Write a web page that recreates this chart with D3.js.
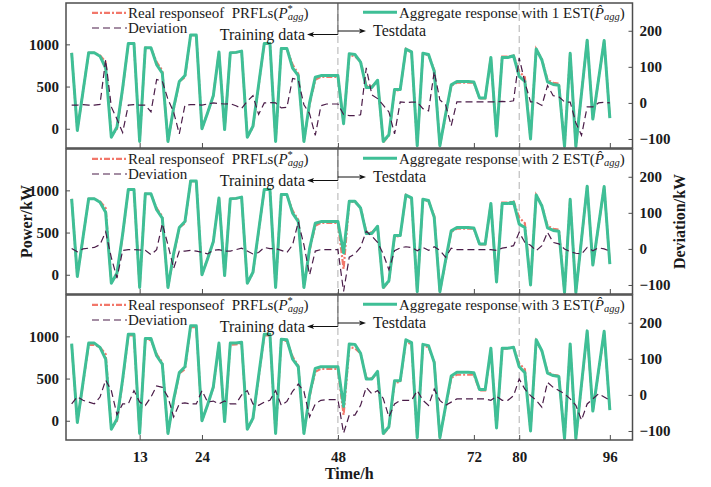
<!DOCTYPE html>
<html>
<head>
<meta charset="utf-8">
<script src="https://cdn.jsdelivr.net/npm/d3@7/dist/d3.min.js"></script>
<style>
body { margin: 0; background: #fff; }
svg { display: block; font-family: "Liberation Serif", "Times New Roman", serif; }
</style>
</head>
<body>
<div id="chart"></div>
<script>
// time axis: hour 1..96
var hours = d3.range(1, 97);

// real response of PRFLs (same in every panel)
var realResp = [
  900, -20, 440, 900, 900, 870, 790, -90, 0, 470, 1010, 1010, -150, 960, 955, 790, 690, -150, 230, 560, 610, 1110, 1110, 0,
  190, 390, 910, -10, 900, 905, 915, -100, 20, 510, 1010, 1010, -150, 950, 945, 760, 650, -150, 290, 580, 615, 615, 615, 615,
  70, 870, 860, 800, 510, 500, 570, -160, -80, 450, 460, 945, 900, -200, 890, 870, 700, -200, 150, 510, 545, 545, 545, 545,
  360, 360, 845, -85, 855, 855, 870, 680, 610, -120, 945, 825, 580, 545, 535, -210, 895, -210, 420, 1050, 115, 580, 1045, 125
];

// aggregate response with 1, 2, 3 EST
var agg1 = [
  900, -20, 440, 900, 900, 860, 720, -100, 20, 480, 1010, 1010, -150, 960, 960, 760, 660, -150, 250, 560, 630, 1110, 1110, 0,
  190, 390, 910, -10, 900, 905, 920, -100, 30, 520, 1010, 1010, -150, 950, 950, 720, 630, -150, 310, 610, 630, 630, 630, 630,
  60, 890, 880, 790, 490, 490, 575, -150, -70, 465, 465, 945, 910, -200, 895, 880, 680, -200, 170, 520, 560, 560, 560, 555,
  365, 365, 845, -85, 845, 845, 865, 620, 560, -120, 945, 815, 555, 525, 515, -210, 895, -210, 420, 1050, 115, 580, 1045, 125
];
var agg2 = [
  900, -20, 440, 900, 900, 860, 740, -100, 20, 480, 1010, 1010, -150, 960, 960, 770, 670, -150, 250, 560, 630, 1110, 1110, 0,
  190, 390, 910, -10, 900, 905, 920, -100, 30, 520, 1010, 1010, -150, 950, 950, 730, 630, -150, 310, 610, 630, 630, 630, 630,
  260, 870, 870, 790, 490, 490, 575, -150, -70, 465, 465, 945, 910, -200, 895, 880, 680, -200, 170, 520, 560, 560, 560, 555,
  365, 365, 845, -85, 845, 845, 860, 600, 560, -120, 945, 815, 555, 525, 515, -210, 895, -210, 420, 1050, 115, 580, 1045, 125
];
var agg3 = [
  915, -20, 450, 920, 920, 870, 730, -100, 20, 490, 1025, 1025, -150, 975, 975, 770, 670, -150, 250, 570, 640, 1125, 1125, 0,
  190, 400, 920, -10, 920, 920, 930, -100, 30, 530, 1025, 1025, -150, 965, 960, 730, 640, -150, 310, 620, 640, 640, 640, 640,
  170, 910, 905, 800, 495, 495, 585, -150, -70, 475, 475, 960, 925, -200, 905, 890, 690, -200, 170, 530, 575, 575, 575, 570,
  370, 370, 860, -85, 860, 860, 870, 640, 570, -120, 960, 830, 565, 535, 525, -210, 910, -210, 430, 1065, 115, 590, 1060, 125
];

// deviation (right axis) for 1, 2, 3 EST
var dev1 = [
  -6, -6, -5, -6, -6, -4, 120, -11, -45, -82, -6, -5, -6, -6, -25, 65, 60, 10, -25, -86, -6, -5, -5, -6,
  -3, 0, -2, -3, -2, -8, -15, 5, 20, -32, 0, 1, 0, -14, -12, 68, 64, -5, -30, -90, -8, -3, -3, -3,
  -32, -35, -35, -33, 97, 22, 12, -6, -25, -86, 3, 1, 2, 2, -16, -22, 87, 8, -5, -63, 3, 3, 3, 3,
  3, 3, 3, 3, 4, 3, 6, 125, 57, 3, 2, -7, 48, 20, 17, 3, 2, -55, -90, -11, -11, 0, 2, 0
];
var dev2 = [
  1, -8, 0, 2, 4, 12, 47, -24, -81, -4, -2, -2, -3, -4, -16, -2, 70, 11, -54, -6, -6, -4, -6, -9,
  -14, -4, -2, -6, -6, -2, 2, -6, -14, -10, 4, 1, 1, -4, -10, 11, 75, 11, -72, -6, -2, -2, -2, -2,
  -118, -23, -14, 5, 49, 35, 18, -14, -58, -5, 3, 6, 4, -5, 4, -4, 6, -4, -23, 2, -2, -2, -2, -2,
  -2, -2, -2, -4, 2, 5, 9, 46, 18, 10, -5, 9, 46, 18, 14, 0, -8, -12, -14, 4, -5, 3, 0, -6
];
var dev3 = [
  -25, -5, -15, -20, -25, -6, 41, 12, -55, -25, -25, 12, -20, -29, -6, 25, 21, -6, -61, -25, -22, -25, -25, 12,
  -20, -17, -25, -17, -25, -25, 0, 12, -25, -29, -20, -15, 12, -29, -18, 10, 30, 10, -61, -25, -15, -13, -13, -13,
  -106, -56, -56, -29, 21, 3, 12, -10, -61, -25, -15, -15, -15, 12, -15, -29, 16, -15, -29, -20, -11, -11, -11, -11,
  -11, -11, -15, -4, -15, -15, -2, 44, 16, -2, -15, -34, 35, 21, 12, 3, -11, -29, -70, -25, -11, 3, -6, -15
];

var estCounts = [1, 2, 3];
var aggSeries = [agg1, agg2, agg3];
var devSeries = [dev1, dev2, dev3];

var xTicks = [13, 24, 48, 72, 80, 96];
var powerTicks = [0, 500, 1000];
var devTicks = [-100, 0, 100, 200];
var splitHours = [48, 80];

var W = 711, H = 487;
var plotLeft = 66, plotRight = 632.5;
var panelTop0 = 3, panelH = 145, panelStep = 146;

var colReal = "#f2776a", colAgg = "#3fbf96", colDev = "#4a1c48", colFrame = "#4d4d4d", colText = "#1a1a1a";

var svg = d3.select("#chart").append("svg")
    .attr("width", W).attr("height", H);

var x = d3.scaleLinear().domain([0, 100]).range([plotLeft, plotRight]);

var defs = svg.append("defs");

function styleTicks(sel) {
    sel.select(".domain").remove();
    sel.selectAll("line").attr("stroke", colFrame);
    sel.selectAll("text").attr("font-size", 15).attr("font-weight", "bold")
        .attr("font-family", "Liberation Serif, serif").attr("fill", colText);
}

estCounts.forEach(function(n, i) {
    var top = panelTop0 + i * panelStep;
    var bottom = top + panelH;
    var yP = d3.scaleLinear().domain([-228, 1490]).range([bottom, top]);
    var yD = d3.scaleLinear().domain([-125, 277]).range([bottom, top]);

    var g = svg.append("g");

    defs.append("clipPath").attr("id", "clip" + i)
        .append("rect")
        .attr("x", plotLeft).attr("y", top)
        .attr("width", plotRight - plotLeft).attr("height", panelH);

    // split lines at 48h and 80h
    g.selectAll(".split")
        .data(splitHours)
        .enter().append("line")
        .attr("x1", function(d) { return x(d); })
        .attr("x2", function(d) { return x(d); })
        .attr("y1", top).attr("y2", bottom)
        .attr("stroke", "#b0b0b0")
        .attr("stroke-width", 1)
        .attr("stroke-dasharray", "7,4");

    var lines = g.append("g").attr("clip-path", "url(#clip" + i + ")");

    var linePower = d3.line()
        .x(function(d, k) { return x(hours[k]); })
        .y(function(d) { return yP(d); });
    var lineDev = d3.line()
        .x(function(d, k) { return x(hours[k]); })
        .y(function(d) { return yD(d); });

    lines.append("path")
        .datum(realResp)
        .attr("d", linePower)
        .attr("fill", "none")
        .attr("stroke", colReal)
        .attr("stroke-width", 2.2)
        .attr("stroke-dasharray", "6,2,2,2");

    lines.append("path")
        .datum(aggSeries[i])
        .attr("d", linePower)
        .attr("fill", "none")
        .attr("stroke", colAgg)
        .attr("stroke-width", 3)
        .attr("stroke-linejoin", "round");

    lines.append("path")
        .datum(devSeries[i])
        .attr("d", lineDev)
        .attr("fill", "none")
        .attr("stroke", colDev)
        .attr("stroke-width", 1.2)
        .attr("stroke-dasharray", "7,4");

    // frame
    g.append("rect")
        .attr("x", plotLeft).attr("y", top)
        .attr("width", plotRight - plotLeft).attr("height", panelH)
        .attr("fill", "none")
        .attr("stroke", colFrame)
        .attr("stroke-width", 1.5);

    // left axis
    var yAxisL = d3.axisLeft(yP).tickValues(powerTicks).tickFormat(d3.format("d"))
        .tickSizeInner(-4).tickSizeOuter(0).tickPadding(7);
    g.append("g").attr("transform", "translate(" + plotLeft + ",0)").call(yAxisL).call(styleTicks);

    // right axis
    var yAxisR = d3.axisRight(yD).tickValues(devTicks).tickFormat(d3.format("d"))
        .tickSizeInner(-4).tickSizeOuter(0).tickPadding(7);
    g.append("g").attr("transform", "translate(" + plotRight + ",0)").call(yAxisR).call(styleTicks);

    // bottom ticks (inward), labels only under the last panel
    var xAxis = d3.axisBottom(x).tickValues(xTicks).tickSizeInner(-5).tickSizeOuter(0).tickPadding(11);
    var gx = g.append("g").attr("transform", "translate(0," + bottom + ")").call(xAxis).call(styleTicks);
    if (i < 2) gx.selectAll("text").remove();

    // legend
    g.append("line")
        .attr("x1", 92).attr("x2", 127).attr("y1", top + 9.8).attr("y2", top + 9.8)
        .attr("stroke", colReal).attr("stroke-width", 2.2).attr("stroke-dasharray", "6,2,2,2");
    var t1 = g.append("text").attr("x", 128).attr("y", top + 14.5)
        .attr("font-size", 15).attr("fill", colText);
    t1.append("tspan").text("Real responseof\u00a0\u00a0PRFLs(");
    t1.append("tspan").attr("font-style", "italic").text("P");
    t1.append("tspan").attr("font-size", 10.5).attr("dy", -6).text("*");
    t1.append("tspan").attr("font-size", 10.5).attr("font-style", "italic").attr("dx", -5).attr("dy", 8).text("agg");
    t1.append("tspan").attr("dy", -2).text(")");

    g.append("line")
        .attr("x1", 92).attr("x2", 127).attr("y1", top + 25).attr("y2", top + 25)
        .attr("stroke", colDev).attr("stroke-width", 1.2).attr("stroke-dasharray", "7,4");
    g.append("text").attr("x", 128).attr("y", top + 30)
        .attr("font-size", 15).attr("fill", colText).text("Deviation");

    g.append("line")
        .attr("x1", 363).attr("x2", 397).attr("y1", top + 9.3).attr("y2", top + 9.3)
        .attr("stroke", colAgg).attr("stroke-width", 3);
    var t2 = g.append("text").attr("x", 399).attr("y", top + 14.5)
        .attr("font-size", 15).attr("fill", colText);
    t2.append("tspan").text("Aggregate response with " + n + " EST(");
    t2.append("tspan").attr("font-style", "italic").text("P\u0302");
    t2.append("tspan").attr("font-size", 10.5).attr("font-style", "italic").attr("dy", 2).text("agg");
    t2.append("tspan").attr("dy", -2).text(")");

    // training / test annotation
    var xs = x(48);
    g.append("line")
        .attr("x1", xs).attr("x2", xs).attr("y1", top).attr("y2", top + 31.5)
        .attr("stroke", "#555").attr("stroke-width", 1);
    g.append("line")
        .attr("x1", xs).attr("x2", 312).attr("y1", top + 31.5).attr("y2", top + 31.5)
        .attr("stroke", "#111").attr("stroke-width", 1);
    g.append("path")
        .attr("d", "M307," + (top + 31.5) + "l7,-2.6l-1.5,2.6l1.5,2.6z")
        .attr("fill", "#111");
    g.append("line")
        .attr("x1", xs).attr("x2", 360).attr("y1", top + 28).attr("y2", top + 28)
        .attr("stroke", "#111").attr("stroke-width", 1);
    g.append("path")
        .attr("d", "M366," + (top + 28) + "l-7,-2.6l1.5,2.6l-1.5,2.6z")
        .attr("fill", "#111");
    g.append("text").attr("x", 305).attr("y", top + 37)
        .attr("text-anchor", "end").attr("font-size", 16).attr("fill", colText)
        .text("Training data");
    g.append("text").attr("x", 373).attr("y", top + 33)
        .attr("font-size", 16).attr("fill", colText)
        .text("Testdata");
});

// axis titles
var midY = panelTop0 + (3 * panelStep - 1) / 2;
svg.append("text")
    .attr("transform", "translate(26," + midY + ") rotate(-90)")
    .attr("text-anchor", "middle").attr("dy", "0.35em")
    .attr("font-size", 16).attr("font-weight", "bold").attr("fill", colText)
    .text("Power/kW");
svg.append("text")
    .attr("transform", "translate(679," + midY + ") rotate(-90)")
    .attr("text-anchor", "middle").attr("dy", "0.35em")
    .attr("font-size", 16).attr("font-weight", "bold").attr("fill", colText)
    .text("Deviation/kW");
svg.append("text")
    .attr("x", (plotLeft + plotRight) / 2).attr("y", 479)
    .attr("text-anchor", "middle")
    .attr("font-size", 16).attr("font-weight", "bold").attr("fill", colText)
    .text("Time/h");
</script>
</body>
</html>
